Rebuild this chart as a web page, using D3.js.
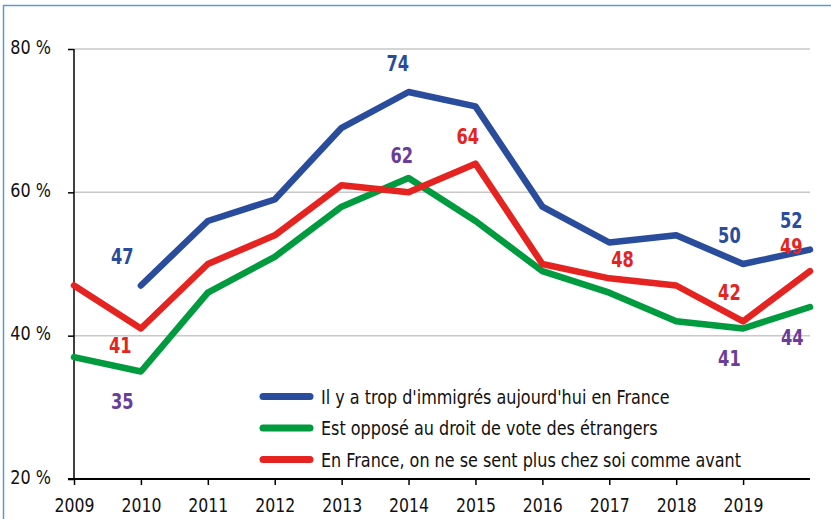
<!DOCTYPE html>
<html>
<head>
	<meta charset="utf-8">
	<title>Immigration opinion chart</title>
	<script src="https://cdn.jsdelivr.net/npm/d3@7"></script>
	<style>
		body { margin: 0; background: #fff; }
		svg text { font-family: "Liberation Sans Narrow", "DejaVu Sans Condensed", sans-serif; }
	</style>
</head>
<body>
<div id="content"></div>

<script type="text/javascript">
	var years = [2009, 2010, 2011, 2012, 2013, 2014, 2015, 2016, 2017, 2018, 2019, 2020];
	var yearLabels = [2009, 2010, 2011, 2012, 2013, 2014, 2015, 2016, 2017, 2018, 2019];
	var trop = [null, 47, 56, 59, 69, 74, 72, 58, 53, 54, 50, 52];
	var vote = [37, 35, 46, 51, 58, 62, 56, 49, 46, 42, 41, 44];
	var chezSoi = [47, 41, 50, 54, 61, 60, 64, 50, 48, 47, 42, 49];
	var yTicks = [20, 40, 60, 80];

	var series = [
		{ name: "Il y a trop d'immigrés aujourd'hui en France", values: trop, color: '#2a4c9c' },
		{ name: 'Est opposé au droit de vote des étrangers', values: vote, color: '#009a3f' },
		{ name: 'En France, on ne se sent plus chez soi comme avant', values: chezSoi, color: '#e52421' }
	];

	// value labels : [series index, year, dx, dy (baseline), colour]
	var purple = '#6a3d9a';
	var labels = [
		[0, 2010, -30, -22, '#2a4c9c'], [0, 2014, -22, -21, '#2a4c9c'], [0, 2019, -25, -21, '#2a4c9c'], [0, 2020, -30, -22, '#2a4c9c'],
		[2, 2010, -32, 24, '#e52421'], [2, 2015, -19, -20, '#e52421'], [2, 2017, 2, -11, '#e52421'], [2, 2019, -25, -21, '#e52421'], [2, 2020, -30, -17, '#e52421'],
		[1, 2010, -30, 37, purple], [1, 2014, -18, -15, purple], [1, 2019, -25, 37, purple], [1, 2020, -29, 38, purple]
	];

	var width = 831, height = 519;
	var sx = 0.89; // narrow the text a little
	var canvas = d3.select('#content')
		.append('svg')
		.attr('width', width)
		.attr('height', height);

	// frame
	canvas.append('line').attr('x1', 3).attr('x2', width).attr('y1', 5.5).attr('y2', 5.5)
		.attr('stroke', '#5b9bd5').attr('stroke-width', 1.5);
	canvas.append('line').attr('x1', 3.5).attr('x2', 3.5).attr('y1', 5).attr('y2', height)
		.attr('stroke', '#5b9bd5').attr('stroke-width', 1.5);

	var x = d3.scaleLinear().domain([2009, 2020]).range([74, 810]);
	var y = d3.scaleLinear().domain([20, 80]).range([479, 49]);

	// gridlines
	canvas.append('g').selectAll('line')
		.data(yTicks.filter(d => d > 20))
		.enter().append('line')
		.attr('x1', 74).attr('x2', 810)
		.attr('y1', d => y(d)).attr('y2', d => y(d))
		.attr('stroke', '#c8c8c8').attr('stroke-width', 1.5);

	var yAxis = canvas.append('g')
		.attr('transform', 'translate(74,0)')
		.call(d3.axisLeft(y).tickValues(yTicks).tickSize(6).tickFormat(d => d + ' %'));
	yAxis.select('.domain').attr('stroke', '#000').attr('stroke-width', 1.5).attr('d', 'M0,' + y(80) + 'V' + y(20));
	yAxis.selectAll('.tick line').attr('stroke', '#000').attr('stroke-width', 1.5);
	yAxis.selectAll('text')
		.attr('font-size', 20).attr('fill', '#111')
		.attr('font-family', '"Liberation Sans Narrow", "DejaVu Sans Condensed", sans-serif')
		.attr('x', -23 / sx).attr('dy', '0.2em')
		.attr('transform', 'scale(' + sx + ',1)');

	var xAxis = canvas.append('g')
		.attr('transform', 'translate(0,' + y(20) + ')')
		.call(d3.axisBottom(x).tickValues(yearLabels).tickSize(6).tickPadding(14).tickFormat(d3.format('d')));
	xAxis.select('.domain').attr('stroke', '#000').attr('stroke-width', 2).attr('d', 'M68,0H810');
	xAxis.selectAll('.tick line').attr('stroke', '#000').attr('stroke-width', 1.5);
	xAxis.selectAll('text').attr('font-size', 19).attr('fill', '#111')
		.attr('font-family', '"Liberation Sans Narrow", "DejaVu Sans Condensed", sans-serif')
		.attr('transform', 'scale(0.92,1)');

	var line = d3.line()
		.defined(d => d.v != null)
		.x(d => x(d.year))
		.y(d => y(d.v));

	// draw order: green, red, blue on top
	[1, 2, 0].forEach(function (i) {
		var s = series[i];
		canvas.append('path')
			.datum(years.map((yr, k) => ({ year: yr, v: s.values[k] })))
			.attr('fill', 'none')
			.attr('stroke', s.color)
			.attr('stroke-width', 6.5)
			.attr('stroke-linejoin', 'round')
			.attr('stroke-linecap', 'round')
			.attr('d', line);
	});

	canvas.append('g').selectAll('text')
		.data(labels)
		.enter().append('text')
		.attr('transform', d => 'translate(' + (x(d[1]) + d[2]) + ',' +
			(y(series[d[0]].values[years.indexOf(d[1])]) + d[3]) + ') scale(0.88,1)')
		.attr('font-size', 20.5)
		.attr('font-weight', 'bold')
		.attr('fill', d => d[4])
		.text(d => series[d[0]].values[years.indexOf(d[1])]);

	// legend
	var legend = canvas.append('g').selectAll('g')
		.data(series)
		.enter().append('g')
		.attr('transform', (d, i) => 'translate(263,' + [396.5, 428, 459.5][i] + ')');
	legend.append('line')
		.attr('x1', 0).attr('x2', 47)
		.attr('stroke', d => d.color)
		.attr('stroke-width', 7)
		.attr('stroke-linecap', 'round');
	legend.append('text')
		.attr('transform', 'translate(58,7) scale(' + sx + ',1)')
		.attr('font-size', 20)
		.attr('fill', '#111')
		.text(d => d.name);
</script>
</body>
</html>
